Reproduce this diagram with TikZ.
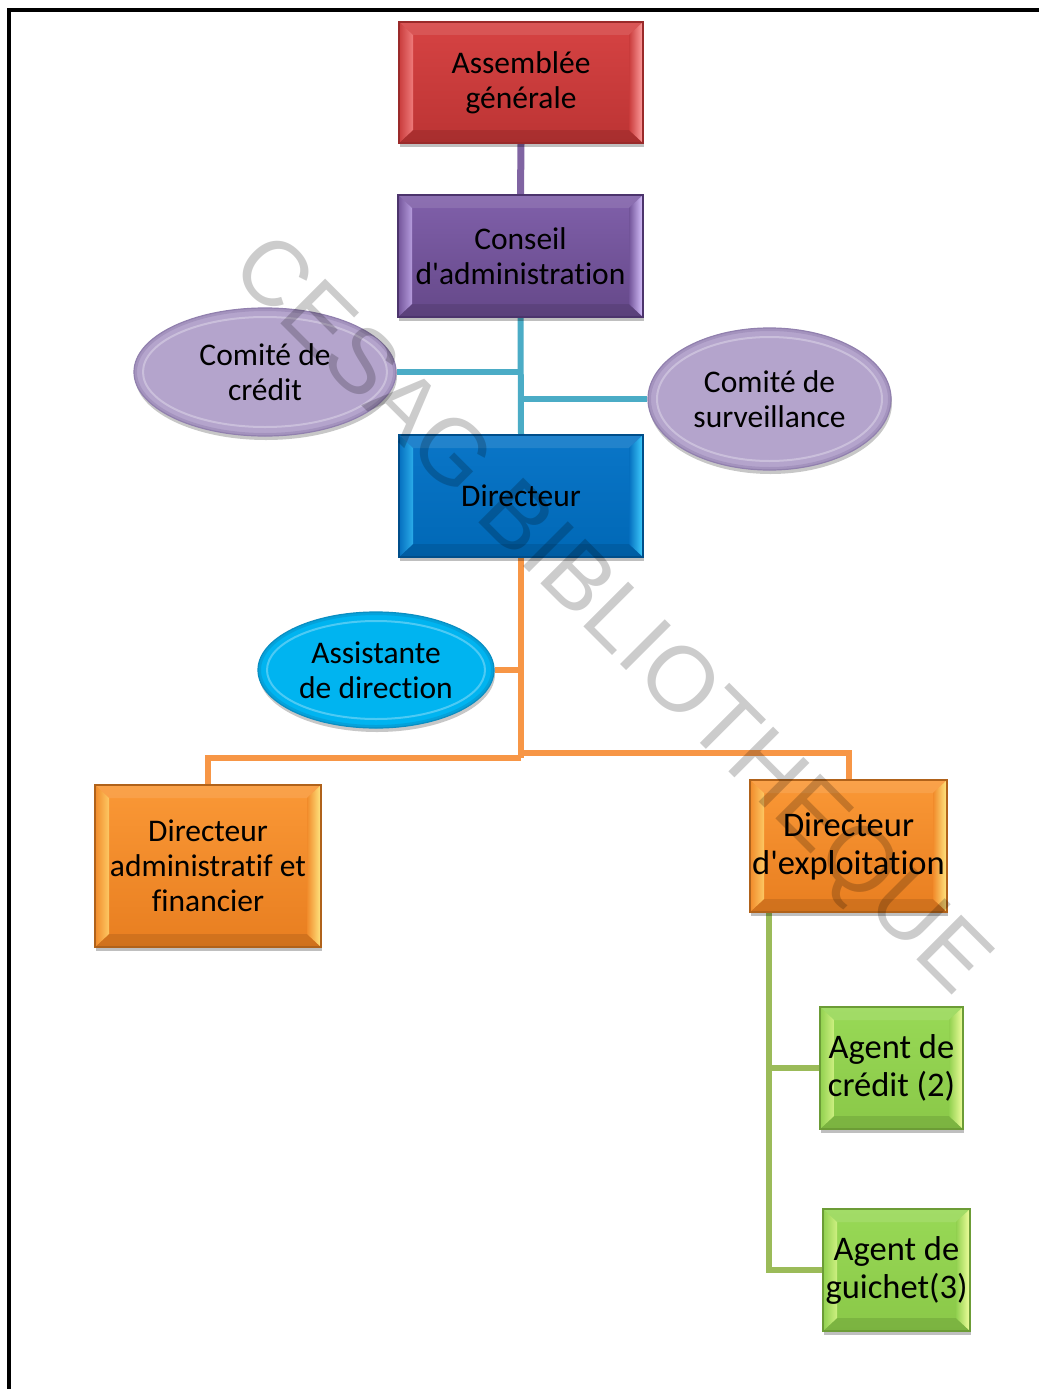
\documentclass[tikz,border=0pt]{standalone}
\usepackage{fontspec}
\setmainfont{Carlito}[Ligatures={TeX,NoCommon}]
\newfontfamily\wmfont{Liberation Sans}
\usetikzlibrary{calc,shapes.geometric,shadows}
\pgfdeclarelayer{bg}
\pgfsetlayers{bg,main}
\definecolor{redT}{HTML}{D64343}
\definecolor{redB}{HTML}{BC3434}
\definecolor{redE}{HTML}{9A2A2A}
\definecolor{redH}{HTML}{FFA0A0}
\definecolor{purT}{HTML}{8060AA}
\definecolor{purB}{HTML}{654889}
\definecolor{purE}{HTML}{4C346C}
\definecolor{purH}{HTML}{D9C4FF}
\definecolor{bluT}{HTML}{0A76C8}
\definecolor{bluB}{HTML}{0068B6}
\definecolor{bluE}{HTML}{004E8A}
\definecolor{bluH}{HTML}{40D0FF}
\definecolor{oraT}{HTML}{FA9836}
\definecolor{oraB}{HTML}{E87E20}
\definecolor{oraE}{HTML}{B0621A}
\definecolor{oraH}{HTML}{FFE882}
\definecolor{greT}{HTML}{98D956}
\definecolor{greB}{HTML}{8AC848}
\definecolor{greE}{HTML}{6C9C36}
\definecolor{greH}{HTML}{F2FF9E}
\definecolor{lavF}{HTML}{B4A4CC}
\definecolor{lavE}{HTML}{9180AE}
\definecolor{cyaF}{HTML}{00B4F0}
\definecolor{cyaE}{HTML}{0A8EC2}
\definecolor{lnPur}{HTML}{8064A2}
\definecolor{lnCya}{HTML}{4BACC6}
\definecolor{lnOra}{HTML}{F79646}
\definecolor{lnGre}{HTML}{9BBB59}
\tikzset{
  bevel/.style n args={4}{%
    rectangle, inner sep=0pt, align=center,
    top color=#1, bottom color=#2, draw=#3, line width=1.2pt,
    drop shadow={shadow xshift=1pt, shadow yshift=-4pt, opacity=0.25, fill=black},
    path picture={
      \coordinate (@nw) at (path picture bounding box.north west);
      \coordinate (@ne) at (path picture bounding box.north east);
      \coordinate (@sw) at (path picture bounding box.south west);
      \coordinate (@se) at (path picture bounding box.south east);
      \fill[white, opacity=0.10] (@nw) -- (@ne) -- ($(@ne)+(-14pt,-13pt)$) -- ($(@nw)+(14pt,-13pt)$) -- cycle;
      \fill[black, opacity=0.10] (@sw) -- (@se) -- ($(@se)+(-14pt,13pt)$) -- ($(@sw)+(14pt,13pt)$) -- cycle;
      \shade[left color=#1!50!#2, right color=#4!60!#1] (@nw) -- (@sw) -- ($(@sw)+(14pt,13pt)$) -- ($(@nw)+(14pt,-13pt)$) -- cycle;
      \shade[left color=#1!50!#2, right color=#4] (@ne) -- (@se) -- ($(@se)+(-14pt,13pt)$) -- ($(@ne)+(-14pt,-13pt)$) -- cycle;
    }
  },
  glossy/.style 2 args={%
    ellipse, inner sep=0pt, align=center, fill=#1, draw=#2, line width=1.2pt,
    drop shadow={shadow xshift=1pt, shadow yshift=-4pt, opacity=0.22, fill=black},
    path picture={
      \path let \p1=(path picture bounding box.north east), \p2=(path picture bounding box.south west) in
        [draw=#2, draw opacity=0.45, line width=6pt] ($(\p1)!0.5!(\p2)$) ellipse [x radius={0.5*(\x1-\x2)}, y radius={0.5*(\y1-\y2)}];
      \path let \p1=(path picture bounding box.north east), \p2=(path picture bounding box.south west) in
        [draw=white, draw opacity=0.3, line width=2pt] ($(\p1)!0.5!(\p2)$) ellipse [x radius={0.5*(\x1-\x2)-9pt}, y radius={0.5*(\y1-\y2)-9pt}];
    }
  },
  txtA/.style={font=\fontsize{31.5}{35}\selectfont},
  txtB/.style={font=\fontsize{34.5}{38}\selectfont},
  conn/.style={line width=6pt, line cap=butt, line join=miter},
}
\begin{document}
\begin{tikzpicture}[x=1pt, y=-1pt]
\useasboundingbox (0,0) rectangle (1039,1389);
\begin{pgfonlayer}{bg}
\fill[white] (0,0) rectangle (1039,1389);
\end{pgfonlayer}
\draw[line width=4pt] (9,1389) -- (9,10) -- (1039,10);

% nodes
\node[bevel={redT}{redB}{redE}{redH}, txtA, minimum width=244pt, minimum height=121pt] (ag) at (521,82.5) {Assemblée\\générale};
\node[bevel={purT}{purB}{purE}{purH}, txtA, minimum width=245pt, minimum height=122pt] (ca) at (520.5,256) {Conseil\\d\textquotesingle administration};
\node[bevel={bluT}{bluB}{bluE}{bluH}, txtA, minimum width=244pt, minimum height=122pt] (dir) at (521,496) {Directeur};
\node[glossy={lavF}{lavE}, txtA, minimum width=262pt, minimum height=128pt] (cc) at (265,372) {Comité de\\crédit};
\node[glossy={lavF}{lavE}, txtA, minimum width=243pt, minimum height=142pt] (cs) at (769.5,399) {Comité de\\surveillance};
\node[glossy={cyaF}{cyaE}, txtA, minimum width=236pt, minimum height=116pt] (ad) at (376,670) {Assistante\\de direction};
\node[bevel={oraT}{oraB}{oraE}{oraH}, txtA, minimum width=226pt, minimum height=162pt] (daf) at (208,866) {Directeur\\administratif et\\financier};
\node[bevel={oraT}{oraB}{oraE}{oraH}, txtB, minimum width=197pt, minimum height=132pt] (dex) at (848.5,846) {Directeur\\d\textquotesingle exploitation};
\node[bevel={greT}{greB}{greE}{greH}, txtB, minimum width=143pt, minimum height=122pt] (ac) at (891.5,1068) {Agent de\\crédit (2)};
\node[bevel={greT}{greB}{greE}{greH}, txtB, minimum width=147pt, minimum height=122pt] (agu) at (896.5,1270) {Agent de\\guichet(3)};

\coordinate (jl) at (521,758);
\coordinate (jr) at (521,753);
\coordinate (g0) at ([xshift=20pt]dex.south west);

% connectors (behind nodes)
\begin{pgfonlayer}{bg}
\draw[conn, lnPur, line width=7pt] (ag.south) -- (ca.north);
\draw[conn, lnCya] (ca.south) -- (dir.north);
\draw[conn, lnCya] (cc.east) -- (cc.east -| ca.south);
\draw[conn, lnCya] (cs.west) -- (cs.west -| ca.south);
\draw[conn, lnOra] (dir.south) -- (jl);
\draw[conn, lnOra] (ad.east) -- (ad.east -| dir.south);
\draw[conn, lnOra] (jl) -| (daf.north);
\draw[conn, lnOra] (jr) -| (dex.north);
\draw[conn, lnGre] (g0) |- (agu.west);
\draw[conn, lnGre] (ac.west) -- (ac.west -| g0);
\end{pgfonlayer}

% watermark
\node[font=\wmfont\fontsize{92}{92}\selectfont, text=black, opacity=0.2, rotate=-45] (wm) at (608,618) {CESAG BIBLIOTHEQUE};
\end{tikzpicture}
\end{document}
